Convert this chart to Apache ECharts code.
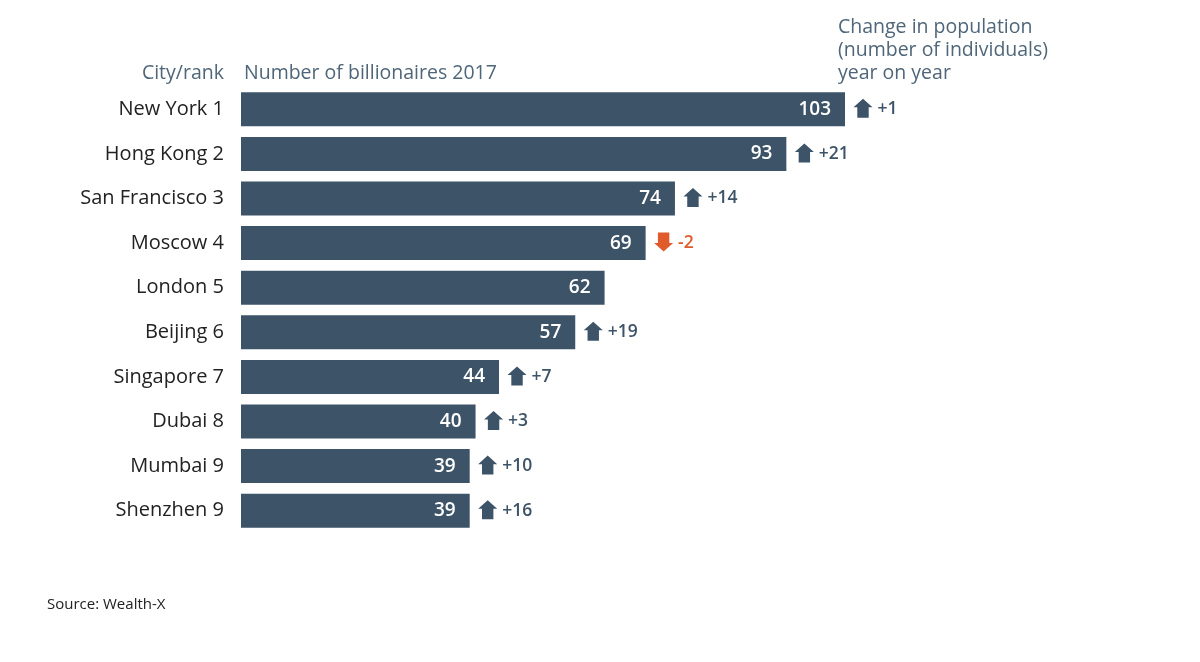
<!DOCTYPE html>
<html>
<head>
<meta charset="utf-8">
<script src="https://cdn.jsdelivr.net/npm/echarts@6/dist/echarts.min.js"></script>
<style>html,body{margin:0;padding:0;background:#fff}#c{width:1200px;height:662px}</style>
</head>
<body>
<div id="c"></div>
<script>
var cities = ['New York', 'Hong Kong', 'San Francisco', 'Moscow', 'London', 'Beijing', 'Singapore', 'Dubai', 'Mumbai', 'Shenzhen'];
var ranks = [1, 2, 3, 4, 5, 6, 7, 8, 9, 9];
var billionaires = [103, 93, 74, 69, 62, 57, 44, 40, 39, 39];
var changes = [1, 21, 14, -2, null, 19, 7, 3, 10, 16];

var FONT = '"Open Sans", "Noto Sans", sans-serif';
var BAR = '#3d5368';
var DOWN = '#e05a2b';
var UP_PATH = 'path://M10,0 L20,9 L16,9 L16,20 L4,20 L4,9 L0,9 Z';
var DOWN_PATH = 'path://M4,0 L16,0 L16,11 L20,11 L10,20 L0,11 L4,11 Z';

var labels = cities.map(function (c, i) { return c + ' ' + ranks[i]; });
var arrowData = [];
changes.forEach(function (ch, i) {
  if (ch === null) return;
  var col = ch < 0 ? DOWN : BAR;
  arrowData.push({
    value: [billionaires[i], labels[i]],
    symbol: ch < 0 ? DOWN_PATH : UP_PATH,
    itemStyle: { color: col, opacity: 1 },
    label: { color: col, formatter: (ch > 0 ? '+' : '') + ch }
  });
});

var hdr = { fontFamily: FONT, fontSize: 19.5, fontWeight: 'normal', color: '#4f6679' };
var chart = echarts.init(document.getElementById('c'));
chart.setOption({
  animation: false,
  textStyle: { fontFamily: FONT },
  title: [
    { text: 'City/rank', right: 976, top: 63, padding: 0, textStyle: hdr },
    { text: 'Number of billionaires 2017', left: 244, top: 63, padding: 0, textStyle: hdr },
    { text: 'Change in population\n(number of individuals)\nyear on year', left: 838, top: 16, padding: 0, textStyle: Object.assign({}, hdr, { lineHeight: 23 }) },
    { text: 'Source: Wealth-X', left: 47, top: 597, padding: 0, textStyle: { fontFamily: FONT, fontSize: 15, fontWeight: 'normal', color: '#222' } }
  ],
  grid: { left: 241, top: 87, width: 604, height: 446 },
  xAxis: { type: 'value', min: 0, max: 103, show: false },
  yAxis: {
    type: 'category', inverse: true, data: labels,
    axisLine: { show: false }, axisTick: { show: false },
    axisLabel: { fontFamily: FONT, fontSize: 20, color: '#222', margin: 17, padding: [3, 0, 0, 0] }
  },
  series: [
    {
      type: 'bar', data: billionaires, barWidth: 34,
      itemStyle: { color: BAR },
      label: { show: true, position: 'insideRight', distance: 14, color: '#fff', fontFamily: FONT, fontSize: 19, fontWeight: 600 },
      silent: true
    },
    {
      type: 'scatter', data: arrowData, symbolSize: [19, 19], symbolOffset: [18, -1],
      itemStyle: { opacity: 1 },
      label: { show: true, position: 'right', distance: 5, fontFamily: FONT, fontSize: 17.5, fontWeight: 600, offset: [0, 1] },
      silent: true, z: 3
    }
  ]
});
</script>
</body>
</html>
